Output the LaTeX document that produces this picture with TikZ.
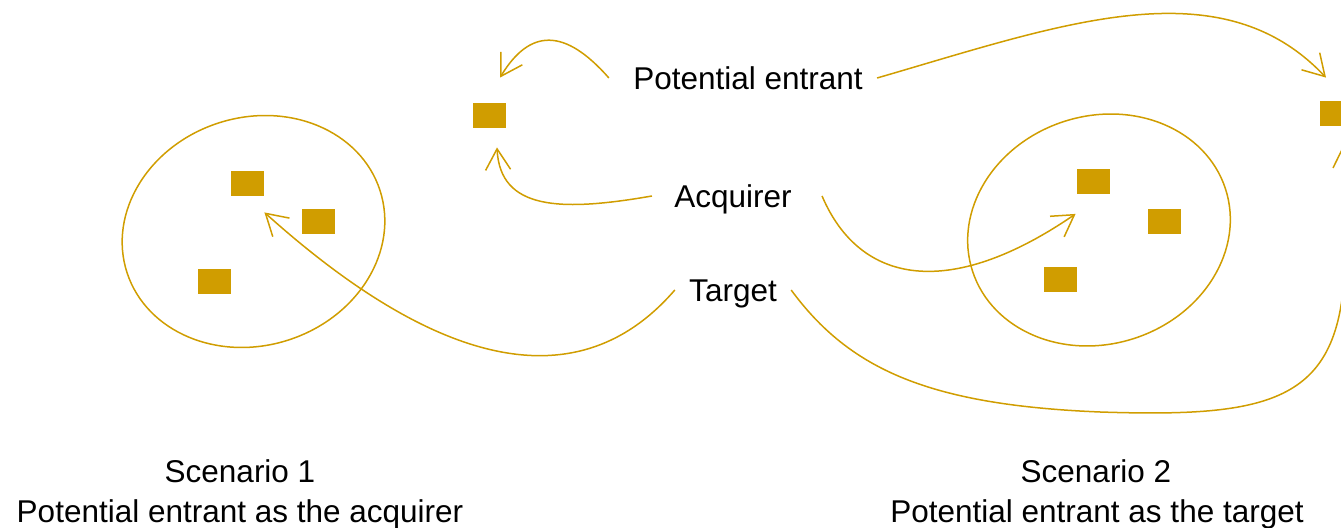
\documentclass[tikz,border=0pt]{standalone}
\usepackage{fontspec}
\setmainfont{Liberation Sans}
\usetikzlibrary{arrows.meta}
\definecolor{gold}{RGB}{208,157,0}
\begin{document}
\begin{tikzpicture}[x=0.5pt,y=-0.5pt]
\tikzstyle{sq}=[fill=gold,minimum width=16.5pt,minimum height=12.5pt,inner sep=0pt]
\tikzstyle{lbl}=[font=\fontsize{15.75}{19}\selectfont,text height=11.25pt,text depth=0pt,inner xsep=7pt,inner ysep=0pt]
\tikzstyle{ring}=[draw=gold,line width=0.75pt]
\tikzstyle{arr}=[ring,-{Straight Barb[length=10.5pt,width=12.5pt]}]
\useasboundingbox (0,0) rectangle (1341,528);
\clip (0,0) rectangle (1341,528);
\node [sq] (pe1) at (489.5,115.5) {};
\node [sq] (pe2) at (1336.5,113.5) {};
\node [sq] (s1a) at (247.5,183.5) {};
\node [sq] (s1b) at (318.5,221.5) {};
\node [sq] (s1c) at (214.5,281.5) {};
\node [sq] (s2a) at (1093.5,182) {};
\node [sq] (s2b) at (1164.5,221.5) {};
\node [sq] (s2c) at (1060.5,279.5) {};
\draw [ring,rotate around={18:(253.5,231.5)}] (253.5,231.5) ellipse [x radius=133,y radius=114];
\draw [ring,rotate around={18:(1099,230)}] (1099,230) ellipse [x radius=133,y radius=114];
\node [lbl] (pe) at (748,78) {Potential entrant};
\node [lbl] (acq) at (733,196) {Acquirer};
\node [lbl] (tgt) at (733,290) {Target};
\node [lbl] (sc1) at (240,471) {Scenario 1};
\node [lbl] (sc1sub) at (240,511) {Potential entrant as the acquirer};
\node [lbl] (sc2) at (1096,471) {Scenario 2};
\node [lbl] (sc2sub) at (1097,511) {Potential entrant as the target};
\coordinate (tOut) at (1345,250);
\coordinate (inR) at (1333,168);
\draw [arr] ([xshift=-5pt]pe.west) .. controls (565,28) and (530,28) .. ([shift={(10.5,-25)}]pe1.north);
\draw [arr] (pe.east) .. controls (1060,25) and (1220,-35) .. ([shift={(-10.5,-23)}]pe2.north);
\draw [arr] ([xshift=-4pt]acq.west) .. controls (560,212) and (500,210) .. ([shift={(7.5,19)}]pe1.south);
\draw [arr] ([xshift=8pt]acq.east) .. controls (860,285) and (950,300) .. ([shift={(-1,19)}]s2a.south west);
\draw [arr] (tgt.west) .. controls (580,400) and (440,370) .. ([shift={(0,16)}]s1a.south east);
\draw [ring] (tgt.east) .. controls (850,370) and (930,405) .. (1100,412) .. controls (1280,418) and (1345,400) .. (tOut);
\draw [ring] (inR) -- (pe2.south east);
\end{tikzpicture}
\end{document}
